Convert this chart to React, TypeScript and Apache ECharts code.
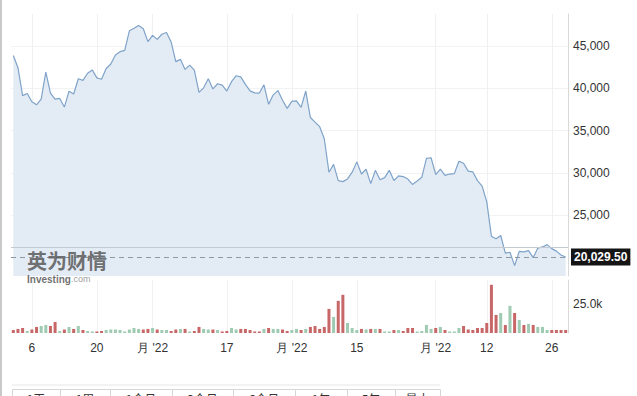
import React, { useEffect, useRef } from 'react';
import * as echarts from 'echarts';

const startDate = '2022-03-02';
const prevClose = 44420;

const closesMar = [43900, 42450, 39150, 39400, 38420, 38060, 38740, 41940, 39440, 38730, 38810, 37790, 39670, 39340, 41140, 40950, 41800, 42190, 41250, 41080, 42360, 42890, 43960, 44350, 44500, 46820, 47130, 47460, 47060, 45540];
const closesApr = [46280, 45810, 46410, 46620, 45500, 43170, 43440, 42250, 42750, 42160, 39530, 40070, 41150, 39940, 40550, 40380, 39680, 40800, 41500, 41370, 40480, 39710, 39470, 39450, 40430, 38120, 39240, 39740, 38600, 37640];
const closesMay = [38470, 38530, 37750, 39690, 36550, 36010, 35470, 34040, 30070, 31000, 29080, 28960, 29280, 30080, 31300, 29860, 30430, 28720, 30300, 29190, 29430, 30300, 29100, 29650, 29560, 29270, 28630, 29030, 29470, 31720, 31790];
const closesJun = [29800, 30450, 29700, 29860, 29910, 31370, 31130, 30200, 30110, 29080, 28420, 26570, 22490, 22200, 22580, 20500, 20600, 19020, 20700, 20650, 20800, 19970, 21090, 21230, 21500, 21030, 20730, 20280, 20029.5];

// volume in thousands
const volMar = [2.6, 3.5, 4.3, 1.7, 3.0, 5.2, 6.0, 6.9, 6.0, 9.5, 1.7, 3.0, 5.2, 3.5, 6.0, 2.6, 1.7, 1.3, 1.3, 1.7, 2.6, 3.0, 3.0, 2.6, 1.3, 3.0, 4.3, 3.5, 3.0, 3.5];
const volApr = [4.3, 3.0, 2.6, 2.6, 1.7, 3.0, 3.5, 3.5, 1.3, 1.7, 5.2, 3.5, 3.0, 3.0, 2.6, 1.3, 1.7, 4.3, 3.0, 3.5, 3.5, 2.6, 1.3, 1.3, 3.5, 4.3, 3.5, 3.5, 3.0, 1.7];
const volMay = [2.6, 3.5, 2.6, 3.5, 5.2, 6.0, 3.5, 5.2, 20.7, 13.8, 27.6, 32.8, 8.6, 4.3, 2.6, 3.5, 3.0, 3.5, 3.5, 3.5, 1.3, 1.3, 2.6, 2.6, 1.7, 4.3, 4.3, 1.3, 1.7, 6.9, 3.5];
const volJun = [4.3, 5.2, 2.6, 1.3, 1.3, 4.3, 6.0, 3.0, 2.6, 4.3, 4.3, 8.6, 41.4, 15.5, 17.2, 6.9, 23.3, 17.2, 11.2, 6.9, 7.8, 6.9, 5.2, 5.2, 2.6, 2.6, 2.6, 2.6, 2.6];

const tickIndex = [4, 18, 30, 46, 60, 74, 91, 102, 116];
const tickText = ['6', '20', "月 '22", '17', "月 '22", '15', "月 '22", '12', '26'];
const priceTicks = [25000, 30000, 35000, 40000, 45000];
const priceMin = 17787;
const priceMax = 48810;
const volMax = 45.5;
const lastPrice = 20029.5;
const refLine = 21220;
const buttonLabels = ['1天', '1周', '1个月', '3个月', '6个月', '1年', '5年', '最大'];
const buttonEdges = [12, 60, 110, 172, 233, 295, 347, 395, 440];

const closes = [...closesMar, ...closesApr, ...closesMay, ...closesJun];
const volumes = [...volMar, ...volApr, ...volMay, ...volJun];

function buildCategories(n: number): string[] {
  const out: string[] = [];
  const d = new Date(startDate + 'T00:00:00Z');
  for (let i = 0; i < n; i++) {
    out.push(`${d.getUTCMonth() + 1}/${d.getUTCDate()}`);
    d.setUTCDate(d.getUTCDate() + 1);
  }
  return out;
}

const FONT = 'Arial, "Liberation Sans", sans-serif';

export default function App() {
  const ref = useRef<HTMLDivElement>(null);
  useEffect(() => {
    if (!ref.current) return;
    const chart = echarts.init(ref.current, undefined, { renderer: 'svg' });
    const cats = buildCategories(closes.length);
    const showTick = (i: number) => tickIndex.indexOf(i) >= 0;
    const RED = '#c86767';
    const GREEN = '#9ecbb1';
    const barData = volumes.map((v, i) => {
      const prev = i === 0 ? prevClose : closes[i - 1];
      return { value: v, itemStyle: { color: closes[i] < prev ? RED : GREEN } };
    });

    const graphics: any[] = [
      { type: 'rect', z: 100, left: 0, top: 0, shape: { x: 0, y: 0, width: 2, height: 396 }, style: { fill: '#c9c9c9' }, silent: true },
      {
        type: 'text', x: 27, y: 251, z: 100, silent: true,
        style: {
          text: '英为财情', font: 'bold 20px "Noto Sans CJK SC", sans-serif', lineHeight: 19,
          fill: '#5a5a5a', opacity: 0.85, verticalAlign: 'top',
        },
      },
      {
        type: 'text', x: 27, y: 274, z: 100, silent: true,
        style: {
          text: 'Investing{c|.com}', font: `bold 10px ${FONT}`, lineHeight: 10, fill: '#555', opacity: 0.85,
          verticalAlign: 'top',
          rich: { c: { font: `9px ${FONT}`, fill: '#888', lineHeight: 10 } },
        },
      },
      { type: 'line', z: 100, silent: true, shape: { x1: 12, y1: 385, x2: 440, y2: 385 }, style: { stroke: '#e6e6e6', lineWidth: 1 } },
    ];
    buttonLabels.forEach((t, i) => {
      const x0 = buttonEdges[i];
      const x1 = buttonEdges[i + 1];
      graphics.push({
        type: 'rect', z: 100, silent: true,
        shape: { x: x0 + 0.5, y: 389.5, width: x1 - x0, height: 20 },
        style: { fill: '#fff', stroke: '#d6d6d6', lineWidth: 1 },
      });
      graphics.push({
        type: 'text', z: 101, silent: true, x: (x0 + x1) / 2, y: 392,
        style: { text: t, font: `12px "Noto Sans CJK SC", sans-serif`, fill: '#333', align: 'center', verticalAlign: 'top' },
      });
    });

    chart.setOption({
      animation: false,
      backgroundColor: '#ffffff',
      textStyle: { fontFamily: FONT },
      grid: [
        { left: 11, right: 69, top: 14, bottom: 120 },
        { left: 11, right: 69, top: 280, bottom: 63 },
      ],
      xAxis: [
        {
          type: 'category', gridIndex: 0, data: cats, boundaryGap: true,
          axisLine: { show: false }, axisTick: { show: false }, axisLabel: { show: false },
          splitLine: { show: true, interval: (i: number) => showTick(i), alignWithLabel: true, lineStyle: { color: '#eef0f2', width: 1 } },
        },
        {
          type: 'category', gridIndex: 1, data: cats, boundaryGap: true,
          axisLine: { show: false }, axisTick: { show: false },
          axisLabel: {
            interval: (i: number) => showTick(i),
            formatter: (_v: string, i: number) => tickText[tickIndex.indexOf(i)] ?? '',
            color: '#333', fontSize: 12, margin: 9, fontFamily: FONT,
          },
          splitLine: { show: true, interval: (i: number) => showTick(i), alignWithLabel: true, lineStyle: { color: '#f0f1f3', width: 1 } },
        },
      ],
      yAxis: [
        {
          type: 'value', gridIndex: 0, position: 'right', min: priceMin, max: priceMax,
          axisLine: { show: true, lineStyle: { color: '#d9d9d9' } },
          axisTick: { show: false, customValues: priceTicks },
          axisLabel: {
            customValues: priceTicks,
            formatter: (v: number) => v.toLocaleString('en-US'),
            color: '#333', fontSize: 12, margin: 5, fontFamily: FONT,
          },
          splitLine: { show: true, lineStyle: { color: '#f1f2f4' } },
        },
        {
          type: 'value', gridIndex: 1, position: 'right', min: 0, max: volMax, interval: 25,
          axisLine: { show: true, lineStyle: { color: '#d9d9d9' } },
          axisTick: { show: false },
          axisLabel: {
            showMinLabel: false, showMaxLabel: false,
            formatter: (v: number) => v.toFixed(1) + 'k',
            color: '#333', fontSize: 12, margin: 5, fontFamily: FONT,
          },
          splitLine: { show: false },
        },
      ],
      series: [
        {
          type: 'line', xAxisIndex: 0, yAxisIndex: 0, data: closes,
          symbol: 'none', smooth: false,
          lineStyle: { color: '#7fa3c9', width: 1.2 },
          areaStyle: { color: '#e3ebf4', opacity: 1 },
          markLine: {
            silent: true, symbol: 'none', animation: false,
            data: [
              {
                yAxis: refLine,
                lineStyle: { type: 'solid', color: '#c3cad2', width: 1 },
                label: { show: false },
              },
              {
                yAxis: lastPrice,
                lineStyle: { type: [5, 4], color: '#8d98a4', width: 1 },
                label: {
                  show: true, position: 'end', distance: 3,
                  formatter: () => lastPrice.toLocaleString('en-US', { minimumFractionDigits: 2 }),
                  backgroundColor: '#151515', color: '#fff', padding: [3, 3, 2, 3],
                  fontSize: 12, fontWeight: 'bold', fontFamily: FONT, borderRadius: 0,
                },
              },
            ],
          },
          z: 2,
        },
        {
          type: 'bar', xAxisIndex: 1, yAxisIndex: 1, data: barData, barWidth: 3,
        },
      ],
      graphic: graphics,
    });
    return () => chart.dispose();
  }, []);
  return (
    <div
      ref={ref}
      style={{ position: 'absolute', left: 0, top: 0, width: 637, height: 396, background: '#fff', overflow: 'hidden' }}
    />
  );
}
